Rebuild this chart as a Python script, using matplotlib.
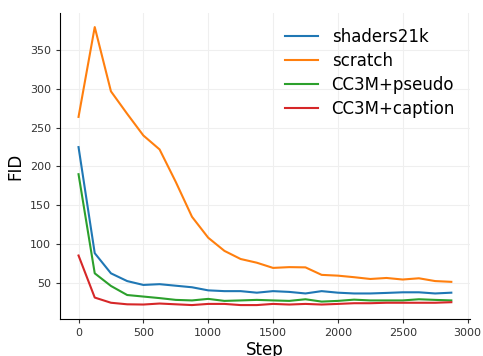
import matplotlib
matplotlib.use("Agg")
import matplotlib.pyplot as plt

steps = [0, 125, 250, 375, 500, 625, 750, 875, 1000, 1125, 1250, 1375,
         1500, 1625, 1750, 1875, 2000, 2125, 2250, 2375, 2500, 2625, 2750, 2875]

shaders21k = [225, 88, 62, 52, 47, 48, 46, 44, 40, 39, 39, 37,
              39, 38, 36, 39, 37, 36, 36, 36.7, 37.5, 37.5, 36, 37]
scratch = [264, 380, 297, 268, 240, 222, 180, 135, 108, 91, 80.5, 75.7,
           69, 70, 69.7, 60, 59, 57, 54.7, 56, 54, 55.6, 52, 51]
cc3m_pseudo = [190, 62, 45.7, 34, 32, 30, 27.7, 27, 29, 26.4, 27, 27.7,
               27, 26.4, 28.5, 25.5, 26.4, 28, 27, 27, 27, 28.5, 27.7, 27]
cc3m_caption = [85, 30.7, 24, 22, 21.7, 23, 22, 21, 22.5, 22.5, 21, 21,
                22.5, 21.7, 22.5, 21.7, 22.5, 23.4, 23.4, 24, 24, 24, 24, 24.7]

series = [("shaders21k", shaders21k, "C0"),
          ("scratch", scratch, "C1"),
          ("CC3M+pseudo", cc3m_pseudo, "C2"),
          ("CC3M+caption", cc3m_caption, "C3")]

fig = plt.figure(figsize=(4.83, 3.56), dpi=100)
ax = fig.add_axes([0.124, 0.104, 0.849, 0.859])

for name, vals, col in series:
    ax.plot(steps, vals, color=col, lw=1.5, label=name)

ax.grid(color="#efefef", lw=0.8)
ax.set_axisbelow(True)
for s in ("top", "right"):
    ax.spines[s].set_visible(False)
ax.tick_params(labelsize=8, length=3, color="#333333", labelcolor="#333333")
ax.set_xticks([0, 500, 1000, 1500, 2000, 2500, 3000])
ax.set_yticks([50, 100, 150, 200, 250, 300, 350])
ax.set_xlabel("Step", fontsize=12, labelpad=2)
ax.set_ylabel("FID", fontsize=12)
ax.legend(loc="upper right", frameon=False, fontsize=12,
          labelspacing=0.35, bbox_to_anchor=(1.0, 1.0))

fig.savefig("out.png", dpi=100)
